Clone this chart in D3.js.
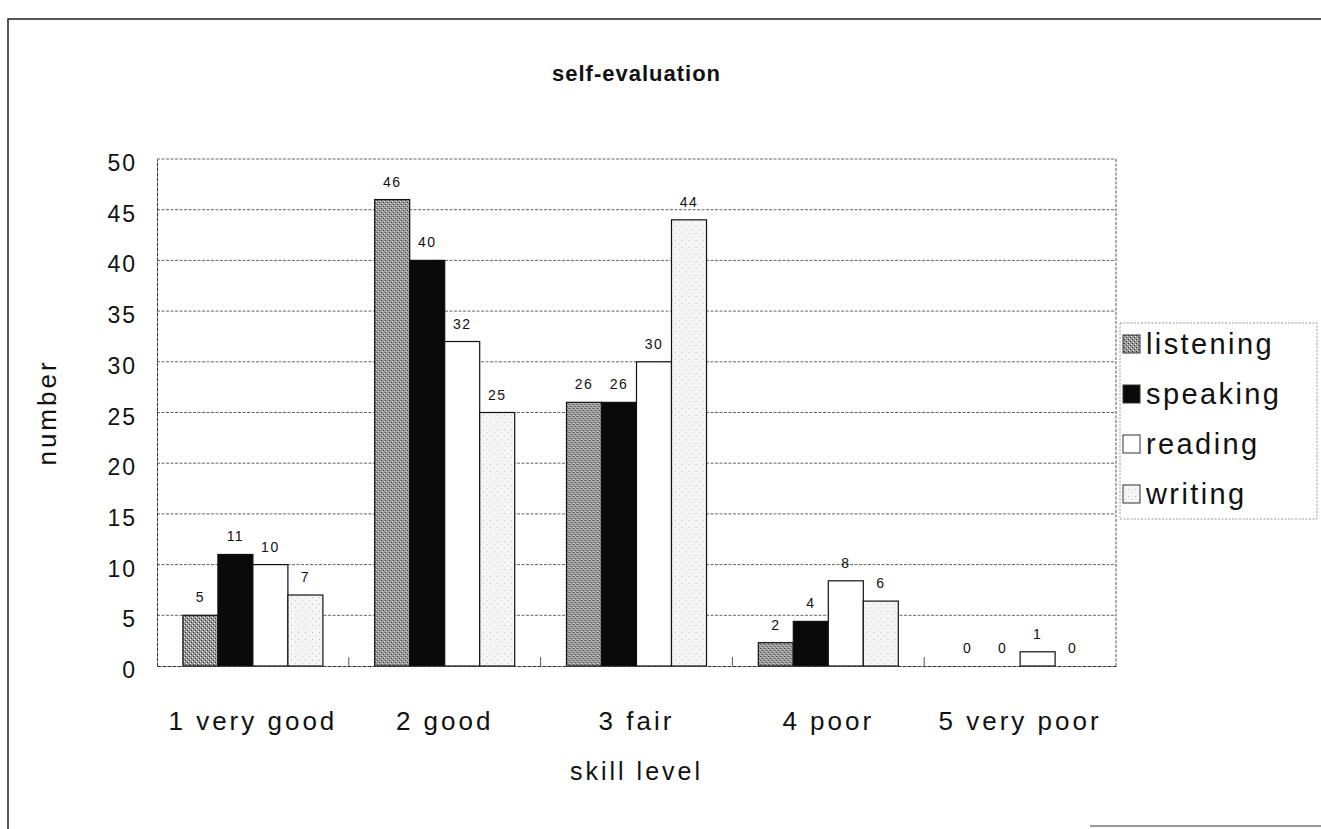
<!DOCTYPE html>
<html lang="en">
<head>
<meta charset="utf-8">
<title>self-evaluation</title>
<script src="https://d3js.org/d3.v7.min.js"></script>
<style>
  body { margin: 0; background: #fff; }
  text { font-family: "Liberation Sans", Arial, Helvetica, sans-serif; fill: #111; }
</style>
</head>
<body>
<script>
// data
var categories = ["1 very good", "2 good", "3 fair", "4 poor", "5 very poor"];
var seriesNames = ["listening", "speaking", "reading", "writing"];
var listening = [5, 46, 26, 2.3, 0];
var speaking  = [11, 40, 26, 4.4, 0];
var reading   = [10, 32, 30, 8.4, 1.4];
var writing   = [7, 25, 44, 6.4, 0];
var yTicks = [0, 5, 10, 15, 20, 25, 30, 35, 40, 45, 50];

var values = {listening: listening, speaking: speaking, reading: reading, writing: writing};

var W = 1321, H = 829;
var plot = {left: 157, right: 1116, top: 159, bottom: 666};

var svg = d3.select("body").append("svg")
    .attr("width", W).attr("height", H);

// fill patterns
var defs = svg.append("defs");
var p1 = defs.append("pattern").attr("id", "patListen")
    .attr("patternUnits", "userSpaceOnUse").attr("width", 4).attr("height", 4);
p1.append("rect").attr("width", 4).attr("height", 4).attr("fill", "#9c9c9c");
p1.append("rect").attr("x", 0).attr("y", 0).attr("width", 1).attr("height", 1).attr("fill", "#333");
p1.append("rect").attr("x", 2).attr("y", 2).attr("width", 1).attr("height", 1).attr("fill", "#333");
p1.append("rect").attr("x", 1).attr("y", 3).attr("width", 1).attr("height", 1).attr("fill", "#e0e0e0");
p1.append("rect").attr("x", 3).attr("y", 1).attr("width", 1).attr("height", 1).attr("fill", "#e0e0e0");

var p2 = defs.append("pattern").attr("id", "patWrite")
    .attr("patternUnits", "userSpaceOnUse").attr("width", 7).attr("height", 7);
p2.append("rect").attr("width", 7).attr("height", 7).attr("fill", "#f5f5f5");
p2.append("rect").attr("x", 1).attr("y", 2).attr("width", 1).attr("height", 1).attr("fill", "#bbb");
p2.append("rect").attr("x", 5).attr("y", 5).attr("width", 1).attr("height", 1).attr("fill", "#ccc");

var fills = {listening: "url(#patListen)", speaking: "#0a0a0a", reading: "#ffffff", writing: "url(#patWrite)"};

// scales
var x0 = d3.scaleBand().domain(categories).range([plot.left, plot.right]);
var x1 = d3.scaleBand().domain(seriesNames).range([0, x0.bandwidth()]).paddingOuter(0.74);
var y = d3.scaleLinear().domain([0, 50]).range([plot.bottom, plot.top]);

// outer frame
svg.append("path")
    .attr("d", "M8,829 V19 H1321")
    .attr("fill", "none").attr("stroke", "#222").attr("stroke-width", 1.5);
svg.append("path")
    .attr("d", "M1090,826 H1321")
    .attr("fill", "none").attr("stroke", "#777").attr("stroke-width", 1.5);

// title
svg.append("text")
    .attr("x", (plot.left + plot.right) / 2).attr("y", 81)
    .attr("text-anchor", "middle")
    .attr("font-size", "22px").attr("font-weight", "bold")
    .style("letter-spacing", "1px")
    .text("self-evaluation");

// gridlines
svg.append("g").selectAll("line")
    .data(yTicks.filter(function(d) { return d > 0; }))
    .join("line")
    .attr("x1", plot.left).attr("x2", plot.right)
    .attr("y1", function(d) { return y(d); }).attr("y2", function(d) { return y(d); })
    .attr("stroke", "#666").attr("stroke-width", 1)
    .attr("stroke-dasharray", "3,1.5");

// plot border (right dashed)
svg.append("line")
    .attr("x1", plot.right).attr("x2", plot.right)
    .attr("y1", plot.top).attr("y2", plot.bottom)
    .attr("stroke", "#555").attr("stroke-dasharray", "3,1.5");

// y axis
var yAxis = svg.append("g")
    .attr("transform", "translate(" + plot.left + ",0)")
    .call(d3.axisLeft(y).tickValues(yTicks).tickSize(0).tickPadding(20));
yAxis.select(".domain").attr("stroke", "#333").attr("stroke-dasharray", "4,1");
yAxis.selectAll("text")
    .attr("font-size", "23px").style("letter-spacing", "2px")
    .attr("dy", "0.5em")
    .attr("fill", "#111");

svg.append("text")
    .attr("transform", "translate(56," + ((plot.top + plot.bottom) / 2) + ") rotate(-90)")
    .attr("text-anchor", "middle")
    .attr("font-size", "26px").style("letter-spacing", "3px")
    .text("number");

// bars
var groups = svg.append("g").selectAll("g")
    .data(categories)
    .join("g")
    .attr("transform", function(c) { return "translate(" + x0(c) + ",0)"; });

groups.selectAll("rect")
    .data(function(c, i) {
        return seriesNames.map(function(s) { return {s: s, v: values[s][i]}; });
    })
    .join("rect")
    .filter(function(d) { return d.v > 0; })
    .attr("x", function(d) { return x1(d.s); })
    .attr("y", function(d) { return y(d.v); })
    .attr("width", x1.bandwidth())
    .attr("height", function(d) { return y(0) - y(d.v); })
    .attr("fill", function(d) { return fills[d.s]; })
    .attr("stroke", "#111").attr("stroke-width", 1.2);

// value labels
groups.selectAll("text.val")
    .data(function(c, i) {
        return seriesNames.map(function(s) { return {s: s, v: values[s][i]}; });
    })
    .join("text")
    .attr("class", "val")
    .attr("x", function(d) { return x1(d.s) + x1.bandwidth() / 2; })
    .attr("y", function(d) { return y(d.v) - 13; })
    .attr("text-anchor", "middle")
    .attr("font-size", "14px").style("letter-spacing", "1.5px")
    .text(function(d) { return d3.format(".0f")(d.v); });

// x axis
var xAxis = svg.append("g")
    .attr("transform", "translate(0," + plot.bottom + ")")
    .call(d3.axisBottom(x0).tickSize(0).tickPadding(46));
xAxis.select(".domain").attr("stroke", "#333").attr("stroke-dasharray", "4,1");
xAxis.selectAll("text")
    .attr("font-size", "26px").style("letter-spacing", "3px")
    .attr("fill", "#111");

// inside tick marks between categories
svg.append("g").selectAll("line")
    .data(categories.slice(1))
    .join("line")
    .attr("x1", function(c) { return x0(c); }).attr("x2", function(c) { return x0(c); })
    .attr("y1", plot.bottom).attr("y2", plot.bottom - 9)
    .attr("stroke", "#555");

svg.append("text")
    .attr("x", (plot.left + plot.right) / 2).attr("y", 780)
    .attr("text-anchor", "middle")
    .attr("font-size", "25px").style("letter-spacing", "3px")
    .text("skill level");

// legend
var lg = svg.append("g").attr("transform", "translate(1120,323)");
lg.append("rect")
    .attr("width", 197).attr("height", 196)
    .attr("fill", "#fff").attr("stroke", "#999").attr("stroke-dasharray", "2,1.5");
var items = lg.selectAll("g.item")
    .data(seriesNames)
    .join("g")
    .attr("class", "item")
    .attr("transform", function(d, i) { return "translate(0," + (i * 50) + ")"; });
items.append("rect")
    .attr("x", 3).attr("y", 12).attr("width", 17).attr("height", 18)
    .attr("fill", function(d) { return fills[d]; })
    .attr("stroke", "#333").attr("stroke-width", 1);
items.append("text")
    .attr("x", 26).attr("y", 31)
    .attr("font-size", "29px").style("letter-spacing", "2.4px")
    .text(function(d) { return d; });
</script>
</body>
</html>
